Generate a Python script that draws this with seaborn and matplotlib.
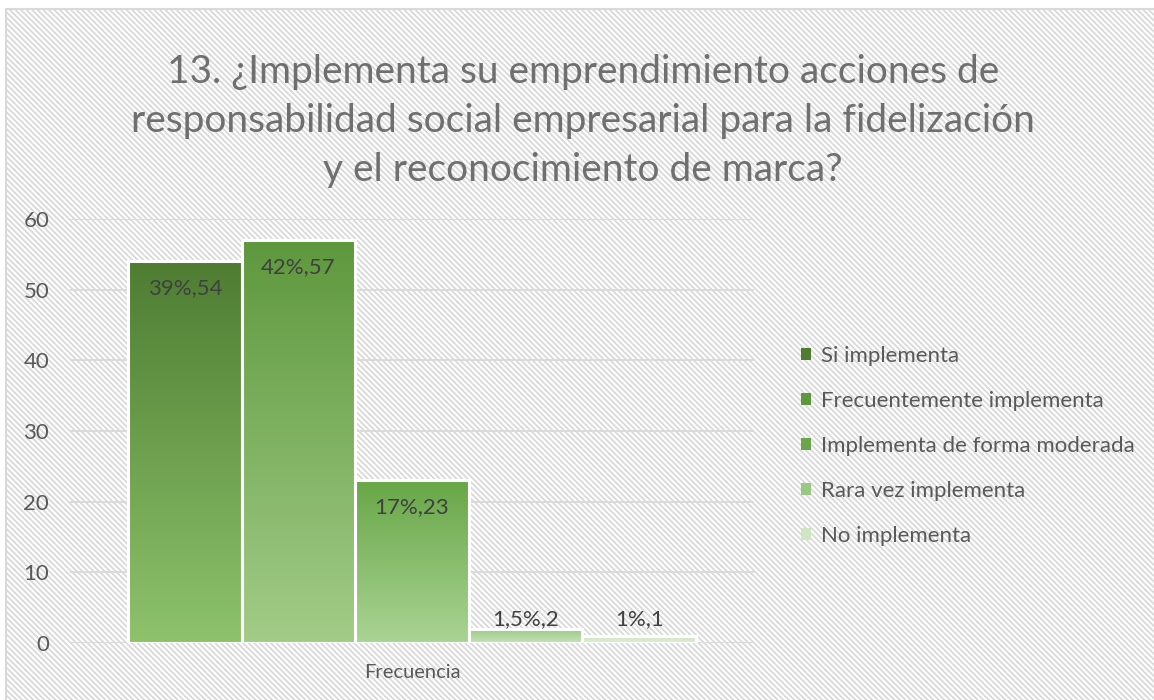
import numpy as np
import pandas as pd
import matplotlib
matplotlib.use("Agg")
import matplotlib.pyplot as plt
import matplotlib.patches as mpatches
import matplotlib.colors as mcolors
import seaborn as sns

# data
categorias = ["Si implementa", "Frecuentemente implementa", "Implementa de forma moderada",
              "Rara vez implementa", "No implementa"]
frecuencia = [54, 57, 23, 2, 1]
porcentajes = ["39%", "42%", "17%", "1,5%", "1%"]
eje_x = "Frecuencia"
titulo = ("13. ¿Implementa su emprendimiento acciones de\n"
          "responsabilidad social empresarial para la fidelización\n"
          "y el reconocimiento de marca?")

# gradient colors per bar (top, bottom)
colores_top = ["#4e7d32", "#5e983d", "#68a647", "#98c982", "#cfe6c4"]
colores_bottom = ["#8ec36c", "#a2cc88", "#aad494", "#c6e2b8", "#dcedd3"]

sns.set_theme(style="white")
plt.rcParams["font.family"] = ["Lato", "DejaVu Sans"]
plt.rcParams["hatch.color"] = "#e2e2e2"
plt.rcParams["hatch.linewidth"] = 1.3

df = pd.DataFrame({"grupo": eje_x, "categoria": categorias, "valor": frecuencia})

fig = plt.figure(figsize=(11.54, 7.0), dpi=100)
fig.patch.set_facecolor("white")

# hatched chart area with gray border
marco = mpatches.Rectangle((6 / 1154, -0.05), 1.1, 1 - 9 / 700 + 0.05, transform=fig.transFigure,
                           facecolor="white", edgecolor="#d9d9d9", hatch="\\" * 6, linewidth=1.5,
                           zorder=-5)
fig.patches.append(marco)

ax = fig.add_axes([70 / 1154, 1 - 643 / 700, 684 / 1154, 424 / 700])
ax.set_zorder(2)
ax.patch.set_alpha(0)

sns.barplot(data=df, x="grupo", y="valor", hue="categoria", hue_order=categorias,
            palette=colores_bottom, width=0.83, gap=0, legend=False, ax=ax,
            edgecolor="white", linewidth=2.2)

ax.set_xlim(-0.5, 0.5)
ax.set_ylim(0, 60)

bars = [p for p in ax.patches if isinstance(p, mpatches.Rectangle)][:len(categorias)]
for i, bar in enumerate(bars):
    x0, y0 = bar.get_x(), bar.get_y()
    w, h = bar.get_width(), bar.get_height()
    cmap = mcolors.LinearSegmentedColormap.from_list("g", [colores_bottom[i], colores_top[i]])
    grad = np.linspace(0, 1, 256).reshape(-1, 1)
    im = ax.imshow(grad, extent=[x0, x0 + w, y0, y0 + h], origin="lower", aspect="auto",
                   cmap=cmap, zorder=2, interpolation="bilinear")
    im.set_clip_path(bar)
    bar.set_facecolor("none")
    bar.set_zorder(3)
    # data label
    v = frecuencia[i]
    ly = v - 3.8 if v > 8 else 3.4
    ax.text(x0 + w / 2, ly, f"{porcentajes[i]},{v}", ha="center", va="center",
            fontsize=16, color="#404040", zorder=4)

ax.set_xlim(-0.5, 0.5)
ax.set_ylim(0, 60)
ax.set_yticks(range(0, 61, 10))
ax.yaxis.grid(True, color="#d9d9d9", linewidth=1.3)
ax.set_axisbelow(True)
for s in ax.spines.values():
    s.set_visible(False)
ax.tick_params(axis="y", length=0, pad=15, labelsize=16, labelcolor="#595959")
ax.tick_params(axis="x", length=0, pad=15, labelsize=14.5, labelcolor="#595959")
ax.set_xlabel("")
ax.set_ylabel("")

fig.text(0.505, 1 - 121 / 700, titulo, ha="center", va="center", fontsize=28,
         color="#6f6f6f", linespacing=1.45)

handles = [mpatches.Patch(facecolor=c, edgecolor="none") for c in colores_top]
fig.legend(handles, categorias, loc="center left", bbox_to_anchor=(781 / 1154, 1 - 446 / 700),
           frameon=False, fontsize=16, labelcolor="#595959", handlelength=0.45,
           handleheight=0.45, handletextpad=0.45, labelspacing=1.12)

fig.savefig("out.png", dpi=100)
